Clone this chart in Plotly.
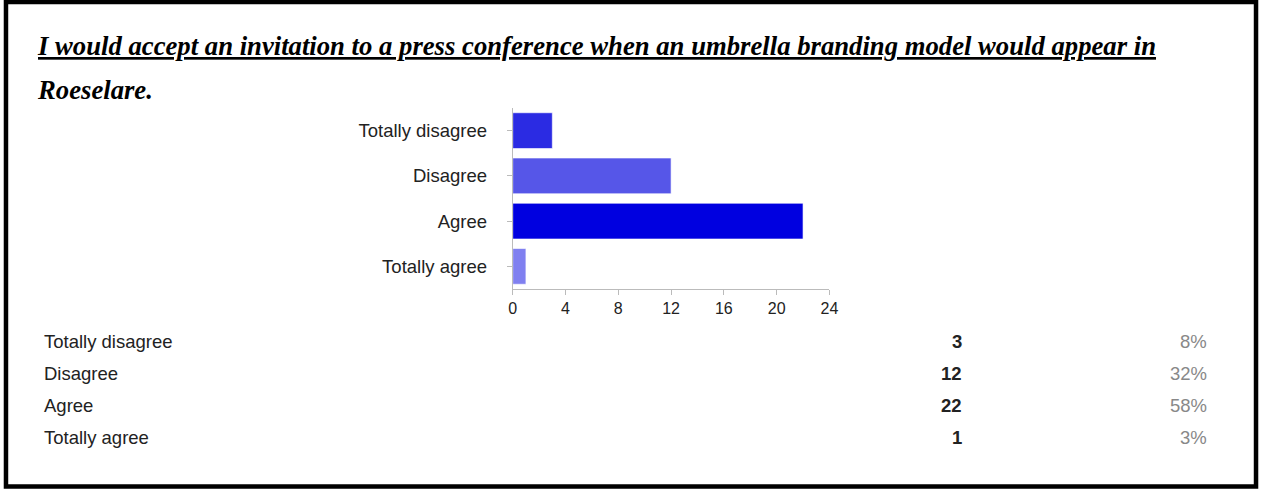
import plotly.graph_objects as go

categories = ["Totally disagree", "Disagree", "Agree", "Totally agree"]
counts = [3, 12, 22, 1]
percents = ["8%", "32%", "58%", "3%"]
bar_colors = ["#2b2be3", "#5656e8", "#0000e0", "#8080f0"]
x_ticks = [0, 4, 8, 12, 16, 20, 24]

W, H = 1267, 489

def px(x):
    return x / W

def py(y):
    return 1 - y / H

fig = go.Figure()
fig.add_trace(go.Bar(
    y=categories, x=counts, orientation="h",
    marker=dict(color=bar_colors, line=dict(width=1, color="rgba(255,255,255,0.6)")),
    hoverinfo="x+y", showlegend=False,
))

fig.update_layout(
    width=W, height=H,
    margin=dict(l=0, r=0, t=0, b=0),
    paper_bgcolor="white", plot_bgcolor="white",
    bargap=0.21,
    font=dict(family="Liberation Sans, Arial, sans-serif", color="#222"),
    xaxis=dict(
        domain=[px(514), px(834)], range=[0, 24], tickvals=x_ticks,
        showgrid=False, zeroline=False, showline=True, linecolor="#bbb", linewidth=1,
        ticks="outside", ticklen=5, tickcolor="#bbb",
        tickfont=dict(size=16, color="#222"), anchor="y",
    ),
    yaxis=dict(
        domain=[py(289), py(108)], autorange="reversed",
        showgrid=False, zeroline=False, showline=True, linecolor="#bbb", linewidth=1,
        ticks="outside", ticklen=5, tickcolor="#bbb",
        tickfont=dict(size=18.5, color="#222"), ticklabelstandoff=16, anchor="x",
    ),
)

L_SHIFT = -6
R_SHIFT = 7

# Title
title_font = dict(family="Liberation Serif, Times New Roman, serif", size=26.7, color="black")
fig.add_annotation(
    text="<b><i><u>I would accept an invitation to a press conference when an umbrella branding model would appear in</u></i></b>",
    xref="paper", yref="paper", x=px(38), y=py(46), xanchor="left", yanchor="middle", align="left",
    showarrow=False, font=title_font, borderpad=0, xshift=L_SHIFT,
)
fig.add_annotation(
    text="<b><i>Roeselare.</i></b>",
    xref="paper", yref="paper", x=px(38), y=py(90), xanchor="left", yanchor="middle", align="left",
    showarrow=False, font=title_font, borderpad=0, xshift=L_SHIFT,
)

# Table
row_y = [341, 373, 405, 437]
for cat, cnt, pct, yy in zip(categories, counts, percents, row_y):
    fig.add_annotation(text=cat, xref="paper", yref="paper", x=px(45), y=py(yy),
                       xanchor="left", yanchor="middle", align="left", showarrow=False,
                       borderpad=0, xshift=L_SHIFT, font=dict(size=18.5, color="#222"))
    fig.add_annotation(text=f"<b>{cnt}</b>", xref="paper", yref="paper", x=px(962), y=py(yy),
                       xanchor="right", yanchor="middle", align="right", showarrow=False,
                       borderpad=0, xshift=R_SHIFT, font=dict(size=18.5, color="#222"))
    fig.add_annotation(text=pct, xref="paper", yref="paper", x=px(1209), y=py(yy),
                       xanchor="right", yanchor="middle", align="right", showarrow=False,
                       borderpad=0, xshift=R_SHIFT, font=dict(size=18.5, color="#888"))

# Border
fig.add_shape(type="rect", xref="paper", yref="paper",
              x0=px(2), x1=px(W - 2), y0=py(H - 2.5), y1=py(2),
              line=dict(color="black", width=4.5), fillcolor="rgba(0,0,0,0)", layer="above")

fig.write_html("out.html")
